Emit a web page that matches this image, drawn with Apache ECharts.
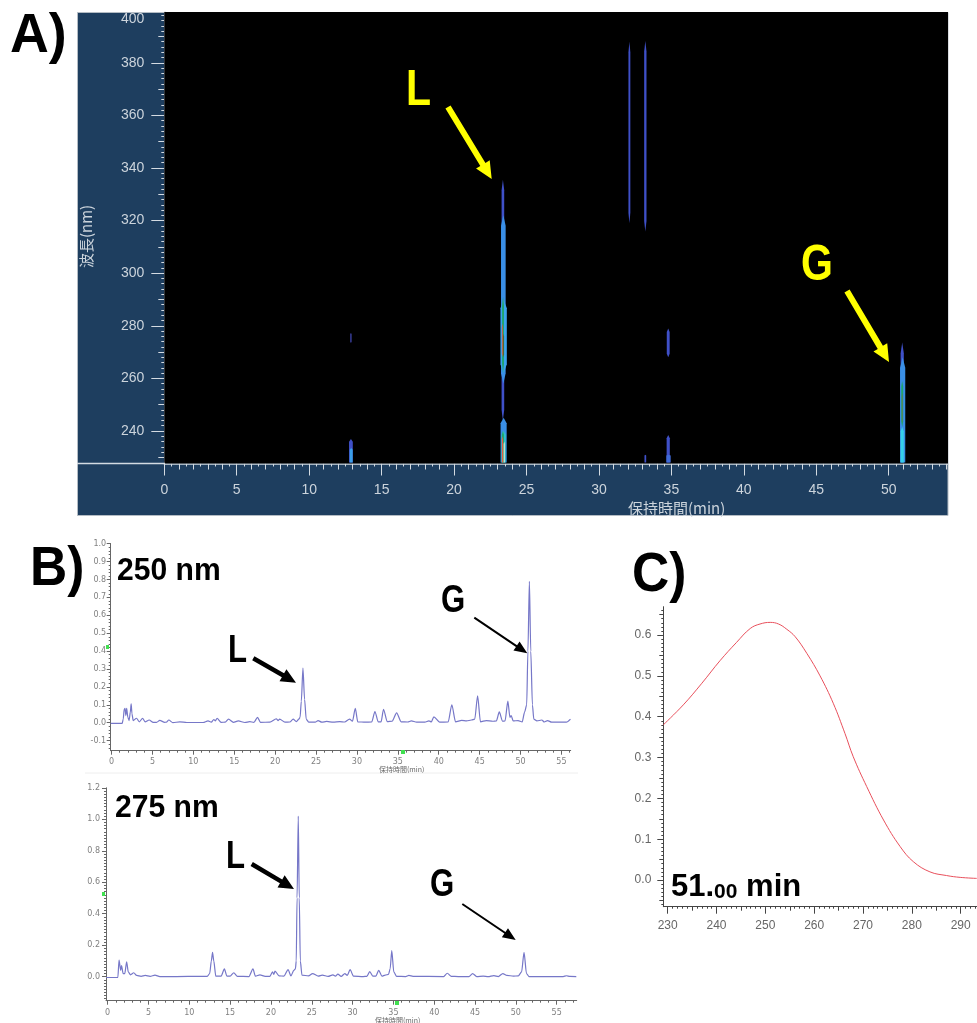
<!DOCTYPE html>
<html><head><meta charset="utf-8">
<style>html,body{margin:0;padding:0;background:#fff}#c{width:977px;height:1023px}</style>
<script src="https://cdn.jsdelivr.net/npm/echarts@6/dist/echarts.min.js"></script>
</head><body><div id="c"></div>
<script>
// ---------- Data ----------
const rtLabels = [0,5,10,15,20,25,30,35,40,45,50];
const wlLabelsA = [240,260,280,300,320,340,360,380];
// Contour patches in panel A: retention time (min), wavelength range (nm), width (min), colour
const bandTime  = [23.37,23.40,23.42,23.38,23.33,23.42,23.42,23.42,23.37,23.34,23.46,12.88,12.88,12.90,32.10,33.20,34.78,34.78,34.80,33.20,50.93,50.96,50.93,50.93,50.93];
const bandLow   = [244,258,262,262,268,268,228,228,228,228,228,273.5,228,228,319,315.8,268,228,228,228,228,228,228,241.5,243];
const bandHigh  = [335.5,322,290,291,281,277,245,240,240,238,236,277.3,237,233.5,388,388.3,279,238.5,231,231,273.6,268,241.5,259,254.5];
const bandWidth = [0.18,0.32,0.44,0.13,0.06,0.06,0.42,0.3,0.14,0.08,0.08,0.1,0.26,0.2,0.13,0.16,0.2,0.22,0.3,0.12,0.22,0.36,0.22,0.13,0.06];
const bandColor = ['#3f50c8','#3a8fe6','#3aa4ec','#1fa56c','#e0523a','#5c5a20','#3a8fe6','#2fc0c8','#1fa56c','#e85a40','#f0e0d0','#3a3f9c','#3f50c8','#3a9fe8','#3f50c8','#3f50c8','#3f50c8','#3f50c8','#3f6ad8','#3f50c8','#3f50c8','#3a8fe6','#35d0e8','#1fa56c','#6a7a50'];

const trace250 = [[-0.1,-0.004],[1.3,-0.004],[1.43,0.02],[1.55,0.075],[1.65,0.08],[1.75,0.04],[1.85,0.08],[2.0,0.03],[2.15,0.012],[2.3,0.06],[2.4,0.105],[2.5,0.05],[2.65,0.012],[3.05,0.025],[3.4,0.005],[3.8,0.025],[4.1,0.005],[4.6,0.015],[5.1,0.002],[5.5,0.002],[5.9,0.013],[6.5,0.002],[6.7,0.003],[7,0.015],[7.5,0],[8.35,0.005],[9.2,0.001],[11.2,0.001],[11.8,0.01],[12.2,0.003],[12.5,0.018],[12.7,0.01],[12.9,0.025],[13.4,0.002],[13.9,0.003],[14.3,0.02],[14.9,0.002],[15.5,0.01],[16.3,0.001],[16.9,0.006],[17.4,0.002],[17.85,0.03],[18.2,0.002],[19.35,0.003],[20.15,0.022],[20.35,0.012],[20.55,0.02],[21.2,0.003],[21.8,0.004],[22.2,0.02],[22.6,0.006],[22.9,0.02],[23.05,0.03],[23.2,0.12],[23.4,0.305],[23.6,0.13],[23.8,0.02],[24.1,0.003],[24.9,0.003],[25.25,0.012],[25.7,0.003],[26.3,0.007],[27.1,0.003],[27.9,0.006],[28.5,0.004],[29.1,0.02],[29.45,0.008],[29.8,0.08],[30.1,0.005],[31,0.003],[31.8,0.004],[32.2,0.062],[32.6,0.005],[32.95,0.005],[33.25,0.075],[33.7,0.006],[34.3,0.008],[34.85,0.055],[35.4,0.005],[36.2,0.004],[36.65,0.01],[37.3,0.003],[38.3,0.003],[38.8,0.01],[39.1,0.005],[39.4,0.033],[40.1,0.003],[41.15,0.004],[41.6,0.1],[42.05,0.005],[42.8,0.013],[43.4,0.01],[44,0.015],[44.4,0.02],[44.75,0.15],[45.1,0.005],[45.8,0.012],[46.6,0.008],[47.05,0.01],[47.4,0.06],[47.8,0.008],[48.1,0.01],[48.45,0.12],[48.7,0.03],[48.85,0.04],[49.1,0.01],[49.7,0.012],[50.2,0.004],[50.5,0.06],[50.75,0.1],[50.9,0.4],[51.08,0.79],[51.25,0.4],[51.45,0.1],[51.62,0.02],[52,0.01],[52.6,0.015],[52.9,0.004],[53.3,0.012],[53.8,0.003],[55.6,0.003],[56.1,0.02]];

const trace275 = [[-0.2,-0.005],[1.25,-0.005],[1.4,0.105],[1.6,0.04],[1.7,0.07],[1.9,0.02],[2.1,0.02],[2.33,0.095],[2.53,0.03],[2.8,0.012],[3.2,0.025],[3.55,0.008],[4.1,0.002],[4.6,0.008],[5.2,0.002],[5.8,0.01],[6.4,0.001],[8.4,0.001],[11.3,0.002],[12.2,0.002],[12.5,0.02],[12.7,0.1],[12.85,0.155],[13.0,0.1],[13.25,0.003],[13.9,0.003],[14.3,0.05],[14.6,0.004],[15,0.003],[15.45,0.025],[15.9,0.002],[17.3,0.001],[17.8,0.05],[18.1,0.003],[18.65,0.012],[19.3,0.002],[19.85,0.002],[20.2,0.03],[20.35,0.015],[20.5,0.035],[21,0.005],[21.6,0.004],[22.1,0.045],[22.45,0.005],[22.8,0.04],[23.0,0.05],[23.1,0.1],[23.2,0.5],[23.35,1.02],[23.47,0.5],[23.6,0.1],[23.8,0.01],[24.6,0.005],[25.1,0.02],[25.8,0.004],[26.3,0.01],[27,0.002],[27.6,0.012],[27.9,0.003],[28.2,0.016],[28.6,0.002],[29.05,0.02],[29.35,0.008],[29.7,0.045],[30.1,0.004],[31.3,0.001],[31.75,0.002],[32.1,0.032],[32.5,0.003],[32.85,0.003],[33.2,0.04],[33.6,0.003],[34,0.01],[34.4,0.015],[34.6,0.05],[34.8,0.165],[35.05,0.03],[35.4,0.002],[36.5,0.001],[36.9,0.008],[37.4,0.002],[41.15,0.001],[41.6,0.022],[42.1,0.002],[42.95,0.001],[44.25,0.001],[44.7,0.02],[45.2,0.001],[46,0.004],[46.6,0],[47.3,0.007],[47.85,0.001],[48.4,0.02],[48.9,0.008],[49.7,0.004],[50.3,0.005],[50.7,0.03],[51.0,0.155],[51.3,0.02],[51.6,0.001],[55.8,0.001],[56.2,0.006],[56.6,0.002],[57.4,0.001]];

const spectrum51 = [[229.1,0.38],[233.2,0.429],[237,0.482],[240.7,0.537],[244.1,0.582],[246.9,0.616],[248.9,0.627],[251,0.631],[252.7,0.627],[254.4,0.614],[256.1,0.596],[258.5,0.555],[261.2,0.5],[263.9,0.433],[266.3,0.359],[268,0.302],[270.75,0.229],[274.2,0.147],[277.6,0.082],[280.3,0.045],[283.7,0.02],[287.1,0.011],[289.9,0.0065],[293.3,0.004]];

// ---------- Helpers ----------
const SANS = '"Liberation Sans",sans-serif';
function range(a,b,s){const o=[];for(let i=0;a+i*s<=b+1e-9;i++)o.push(+(a+i*s).toFixed(4));return o;}
const xAxes=[],yAxes=[];
function addAxis(list,base,vals,len,color,label,lineW){
  list.push(Object.assign({type:'value',splitLine:{show:false},
    axisLine:{show:!!label,onZero:false,lineStyle:{color,width:lineW||1}},
    axisTick:{show:true,length:len,customValues:vals,lineStyle:{color,width:1}},
    axisLabel:label?Object.assign({show:true,customValues:label.values,showMinLabel:true,showMaxLabel:true},label.style):{show:false}
  },base));
  return list.length-1;
}
function panel(o){
  const xb={gridIndex:o.g,min:o.x[0],max:o.x[1],position:'bottom'};
  const yb={gridIndex:o.g,min:o.y[0],max:o.y[1],position:'left'};
  o.xMinor.forEach(m=>addAxis(xAxes,xb,m[0],m[1],o.color));
  o.yMinor.forEach(m=>addAxis(yAxes,yb,m[0],m[1],o.color));
  return [addAxis(xAxes,xb,o.xMajor,o.xLen,o.color,{values:o.xLabels,style:o.xStyle},o.lineW),
          addAxis(yAxes,yb,o.yMajor,o.yLen,o.color,{values:o.yLabels,style:o.yStyle},o.lineW)];
}
function arrow(x1,y1,x2,y2,sw,hw,hl,fill){
  const d=Math.hypot(x2-x1,y2-y1),ux=(x2-x1)/d,uy=(y2-y1)/d,nx=-uy,ny=ux;
  const bx=x2-ux*hl,by=y2-uy*hl;
  return {type:'polygon',z:50,silent:true,shape:{points:[
    [x1+nx*sw/2,y1+ny*sw/2],[bx+nx*sw/2,by+ny*sw/2],[bx+nx*hw/2,by+ny*hw/2],[x2,y2],
    [bx-nx*hw/2,by-ny*hw/2],[bx-nx*sw/2,by-ny*sw/2],[x1-nx*sw/2,y1-ny*sw/2]]},style:{fill}};
}
function txt(text,x,y,font,fill,extra){
  return Object.assign({type:'text',z:60,silent:true,x,y,style:{text,font,fill,align:'left',verticalAlign:'middle'}},extra||{});
}

// ---------- Axes ----------
const cA='#d4dbe2',cB='#666666';
const styA={color:'#ccd4dc',fontFamily:SANS,fontSize:14};
const pA=panel({g:0,x:[0,54.09],y:[227.64,399.3],color:cA,lineW:1.5,
  xMajor:rtLabels,xLen:12,xLabels:rtLabels,xStyle:Object.assign({margin:20},styA),
  yMajor:wlLabelsA,yLen:13,yLabels:wlLabelsA.concat([399.3]),
  yStyle:Object.assign({margin:20,verticalAlignMaxLabel:'top',formatter:v=>String(v>399?400:v)},styA),
  xMinor:[[range(0,54,0.5),3],[range(0,54,1),6]],yMinor:[[range(230,398,2),3],[range(230,390,10),6]]});
const styB={color:'#808080',fontFamily:'"DejaVu Sans",sans-serif',fontSize:8};
const pB1=panel({g:1,x:[-0.1,56.13],y:[-0.1564,1],color:cB,
  xMajor:range(0,55,5),xLen:4,xLabels:range(0,55,5),xStyle:Object.assign({margin:7},styB),
  yMajor:range(-0.1,1,0.1),yLen:4,yLabels:range(-0.1,1,0.1),yStyle:Object.assign({margin:4.5,formatter:v=>v.toFixed(1)},styB),
  xMinor:[[range(0,56,1),2]],yMinor:[[range(-0.14,1,0.02),2]]});
const pB2=panel({g:2,x:[-0.2,57.45],y:[-0.1525,1.2],color:cB,
  xMajor:range(0,55,5),xLen:4,xLabels:range(0,55,5),xStyle:Object.assign({margin:8},styB),
  yMajor:range(0,1.2,0.2),yLen:4,yLabels:range(0,1.2,0.2),yStyle:Object.assign({margin:6,formatter:v=>v.toFixed(1)},styB),
  xMinor:[[range(0,57,1),2]],yMinor:[[range(-0.14,1.2,0.02),2]]});
const styC={color:'#666666',fontFamily:SANS,fontSize:12};
const pC=panel({g:3,x:[229.1,293.34],y:[-0.0653,0.6694],color:'#444444',
  xMajor:range(230,290,10),xLen:7,xLabels:range(230,290,10),xStyle:Object.assign({margin:13},styC),
  yMajor:range(0,0.6,0.1),yLen:6,yLabels:range(0,0.6,0.1),yStyle:Object.assign({margin:12,formatter:v=>v.toFixed(1)},styC),
  xMinor:[[range(230,293,1),2],[range(235,290,10),4]],yMinor:[[range(-0.06,0.66,0.01),2],[range(-0.05,0.65,0.1),4]]});

// ---------- Chart ----------
const traceStyle={color:'#7677c8',width:1.2};
const chart=echarts.init(document.getElementById('c'),null,{renderer:'canvas'});
chart.setOption({
  animation:false,backgroundColor:'#ffffff',
  grid:[
    {left:164.3,top:12,width:783.7,height:451.5,show:true,backgroundColor:'#000000',borderWidth:0,z:1},
    {left:110.7,top:543.7,width:460,height:207,show:false},
    {left:106,top:787.8,width:470.7,height:212.9,show:false},
    {left:663.3,top:606.7,width:313.7,height:300,show:false}],
  xAxis:xAxes,yAxis:yAxes,
  series:[
    {type:'custom',xAxisIndex:pA[0],yAxisIndex:pA[1],coordinateSystem:'cartesian2d',clip:true,
     data:bandTime.map((t,i)=>[t,bandLow[i],bandHigh[i],bandWidth[i]]),encode:{x:0,y:[1,2]},
     renderItem(params,api){
       const t=api.value(0),lo=api.value(1),hi=api.value(2),w=api.value(3),span=hi-lo,tp=Math.min(span*0.12,4);
       const pts=[[t,hi],[t+w/2,hi-tp],[t+w/2,lo>228.5?lo+tp:lo],[t,lo],[t-w/2,lo>228.5?lo+tp:lo],[t-w/2,hi-tp]].map(p=>api.coord(p));
       return {type:'polygon',shape:{points:pts},style:{fill:bandColor[params.dataIndex]}};
     }},
    {type:'line',xAxisIndex:pB1[0],yAxisIndex:pB1[1],data:trace250,showSymbol:false,smooth:0.25,smoothMonotone:'x',lineStyle:traceStyle},
    {type:'line',xAxisIndex:pB2[0],yAxisIndex:pB2[1],data:trace275,showSymbol:false,smooth:0.25,smoothMonotone:'x',lineStyle:traceStyle},
    {type:'line',xAxisIndex:pC[0],yAxisIndex:pC[1],data:spectrum51,showSymbol:false,smooth:0.4,lineStyle:{color:'#e8505c',width:1}}
  ],
  graphic:[
    {type:'rect',z:-10,silent:true,shape:{x:77.5,y:12.5,width:870.5,height:503},style:{fill:'#1e3e5f',stroke:'#b4bcc4',lineWidth:1}},
    {type:'line',z:20,silent:true,shape:{x1:77,y1:463.5,x2:165,y2:463.5},style:{stroke:'#d4dbe2',lineWidth:1.5}},
    {type:'line',z:-5,silent:true,shape:{x1:85,y1:773,x2:578,y2:773},style:{stroke:'#eeeeee',lineWidth:1}},
    txt('A)',10,37,'bold 56px '+SANS,'#000',{scaleX:0.96}),
    txt('B)',30,570,'bold 56px '+SANS,'#000',{scaleX:0.92}),
    txt('C)',632,576,'bold 56px '+SANS,'#000',{scaleX:0.92}),
    txt('L',406,91,'bold 50px '+SANS,'#ffff00',{scaleX:0.82}),
    txt('G',801,266,'bold 50px '+SANS,'#ffff00',{scaleX:0.82}),
    arrow(448,107,491.7,179,6,16,17,'#ffff00'),
    arrow(847,291,889,362,6,16,17,'#ffff00'),
    txt('保持時間(min)',628,508,'15px "Noto Sans CJK JP"','#ccd4dc'),
    txt('波長(nm)',86,268,'15px "Noto Sans CJK JP"','#ccd4dc',{rotation:Math.PI/2}),
    txt('250 nm',117,571,'bold 32px '+SANS,'#000',{scaleX:0.94}),
    txt('L',228,652,'bold 38px '+SANS,'#000',{scaleX:0.82}),
    txt('G',441,602,'bold 38px '+SANS,'#000',{scaleX:0.82}),
    arrow(253.3,658.3,296,682.7,4.5,14,15,'#000'),
    arrow(474.3,617.7,527.3,653.3,2,11,13,'#000'),
    txt('保持時間(min)',379,769,'7px "Noto Sans CJK JP"','#666'),
    txt('275 nm',115,808,'bold 32px '+SANS,'#000',{scaleX:0.94}),
    txt('L',226,858,'bold 38px '+SANS,'#000',{scaleX:0.82}),
    txt('G',430,886,'bold 38px '+SANS,'#000',{scaleX:0.82}),
    arrow(251.7,864,294,889,4.5,14,15,'#000'),
    arrow(462.3,904,515.7,940,2,11,13,'#000'),
    txt('保持時間(min)',375,1020,'7px "Noto Sans CJK JP"','#666'),
    {type:'rect',z:30,silent:true,shape:{x:106,y:645,width:3,height:4},style:{fill:'#40e050'}},
    {type:'rect',z:30,silent:true,shape:{x:401,y:750,width:4,height:4},style:{fill:'#40e050'}},
    {type:'rect',z:30,silent:true,shape:{x:102,y:892,width:3,height:4},style:{fill:'#40e050'}},
    {type:'rect',z:30,silent:true,shape:{x:395,y:1001,width:4,height:4},style:{fill:'#40e050'}},
    {type:'text',z:60,silent:true,x:671,y:887,style:{text:'{a|51.}{b|00}{a| min}',align:'left',verticalAlign:'middle',
      rich:{a:{font:'bold 31px '+SANS,fill:'#000',verticalAlign:'bottom'},b:{font:'bold 21px '+SANS,fill:'#000',verticalAlign:'bottom'}}}}
  ]
});
</script></body></html>
